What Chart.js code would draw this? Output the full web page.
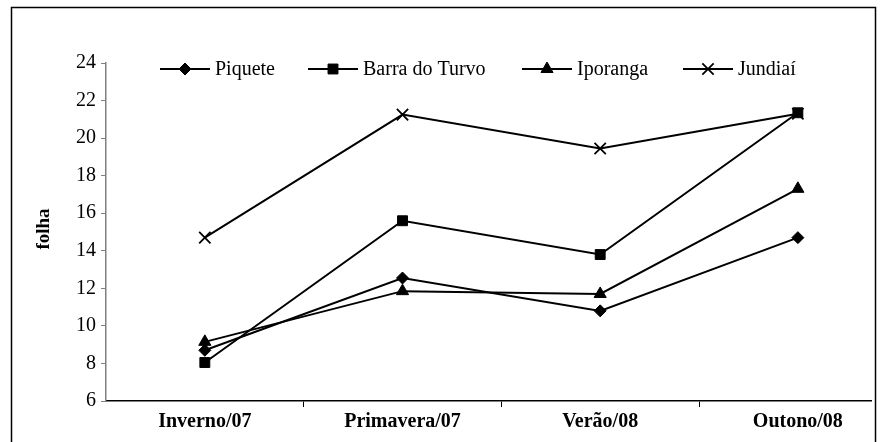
<!DOCTYPE html>
<html>
<head>
<meta charset="utf-8">
<script src="https://cdn.jsdelivr.net/npm/chart.js@4.4.0/dist/chart.umd.min.js"></script>
<style>
html,body{margin:0;padding:0;background:#fff;}
#wrap{width:884px;height:442px;position:relative;}
</style>
</head>
<body>
<div id="wrap"><canvas id="c" width="884" height="442"></canvas></div>
<script>
const categories = ['Inverno/07', 'Primavera/07', 'Verão/08', 'Outono/08'];
const piquete = [8.7, 12.55, 10.8, 14.7];
const barraDoTurvo = [8.05, 15.6, 13.8, 21.35];
const iporanga = [9.15, 11.85, 11.7, 17.3];
const jundiai = [14.7, 21.25, 19.45, 21.3];
const seriesNames = ['Piquete', 'Barra do Turvo', 'Iporanga', 'Jundiaí'];
const yTicks = [6, 8, 10, 12, 14, 16, 18, 20, 22, 24];
const yTitle = 'folha';

const SERIF = '"Liberation Serif", "Times New Roman", serif';
const LEGEND_X = [160, 308, 522, 683];

function mk(label, vals, style, radius, extra) {
  return Object.assign({
    label: label,
    data: vals.map((v, i) => ({x: i, y: v})),
    borderColor: '#000',
    backgroundColor: '#000',
    pointBackgroundColor: '#000',
    pointBorderColor: '#000',
    borderWidth: 2,
    pointStyle: style,
    pointRadius: radius,
    pointHoverRadius: radius,
    pointBorderWidth: 1,
    tension: 0,
    fill: false
  }, extra || {});
}

const datasets = [
  mk(seriesNames[0], piquete, 'rectRot', 6),
  mk(seriesNames[1], barraDoTurvo, 'rect', 7),
  mk(seriesNames[2], iporanga, 'triangle', 7),
  mk(seriesNames[3], jundiai, 'crossRot', 8, {pointBorderWidth: 1.8})
];

const frame = {
  id: 'frame',
  beforeDraw(chart) {
    const ctx = chart.ctx;
    ctx.save();
    ctx.fillStyle = '#fff';
    ctx.fillRect(0, 0, chart.width, chart.height);
    ctx.strokeStyle = '#000';
    ctx.lineWidth = 1.5;
    ctx.strokeRect(11.5, 7.5, 864, 440);
    ctx.restore();
  },
  afterDraw(chart) {
    const ctx = chart.ctx;
    ctx.save();
    ctx.font = 'bold 19px ' + SERIF;
    ctx.fillStyle = '#000';
    ctx.translate(44, 229);
    ctx.rotate(-Math.PI / 2);
    ctx.textAlign = 'center';
    ctx.textBaseline = 'middle';
    ctx.fillText(yTitle, 0, 0);
    ctx.restore();

    ctx.save();
    ctx.font = '20px ' + SERIF;
    ctx.textBaseline = 'middle';
    ctx.textAlign = 'left';
    const y = 69;
    chart.data.datasets.forEach((ds, i) => {
      const x = LEGEND_X[i];
      ctx.strokeStyle = '#000';
      ctx.lineWidth = 2;
      ctx.beginPath();
      ctx.moveTo(x, y);
      ctx.lineTo(x + 50, y);
      ctx.stroke();
      ctx.fillStyle = '#000';
      ctx.lineWidth = ds.pointBorderWidth;
      Chart.helpers.drawPoint(ctx, {
        pointStyle: ds.pointStyle, rotation: 0,
        radius: ds.pointRadius, borderWidth: ds.pointBorderWidth
      }, x + 25, y);
      ctx.fillStyle = '#000';
      ctx.fillText(ds.label, x + 55, y + 1);
    });
    ctx.restore();
  }
};

new Chart(document.getElementById('c'), {
  type: 'line',
  data: {datasets: datasets},
  plugins: [frame],
  options: {
    responsive: false,
    animation: false,
    events: [],
    layout: {padding: {left: 0, top: 63, right: 13, bottom: 0}},
    plugins: {legend: {display: false}, tooltip: {enabled: false}},
    scales: {
      x: {
        type: 'linear',
        min: -0.5,
        max: 3.37,
        afterBuildTicks(scale) {
          const t = [];
          for (let v = -0.5; v <= 3; v += 0.5) t.push({value: v});
          scale.ticks = t;
        },
        afterFit(scale) { scale.height = 41; },
        border: {color: '#000', width: 1.5},
        grid: {
          drawOnChartArea: false,
          tickLength: 6,
          color: c => (c.tick && !Number.isInteger(c.tick.value) && c.tick.value > -0.5) ? '#000' : 'rgba(0,0,0,0)',
          lineWidth: 1
        },
        ticks: {
          autoSkip: false,
          maxRotation: 0,
          padding: 3,
          color: '#000',
          font: {family: SERIF, size: 20, weight: 'bold'},
          callback: v => Number.isInteger(v) ? categories[v] : ''
        }
      },
      y: {
        min: yTicks[0],
        max: yTicks[yTicks.length - 1],
        afterBuildTicks(scale) { scale.ticks = yTicks.map(v => ({value: v})); },
        afterFit(scale) { scale.width = 106; },
        border: {color: '#808080', width: 1.5},
        grid: {drawOnChartArea: false, tickLength: 5, color: '#808080'},
        ticks: {
          padding: 5,
          color: '#000',
          font: {family: SERIF, size: 20}
        }
      }
    }
  }
});
</script>
</body>
</html>
